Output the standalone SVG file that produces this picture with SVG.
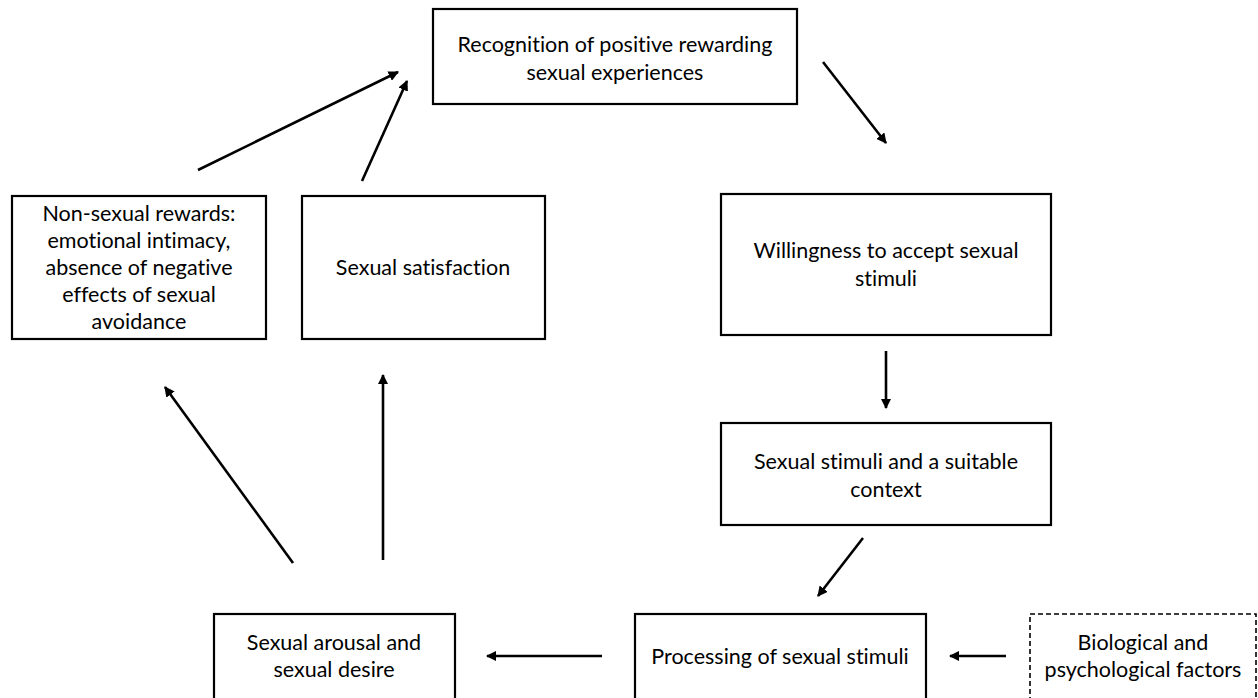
<svg xmlns="http://www.w3.org/2000/svg" width="1258" height="698" viewBox="0 0 1258 698">
  <style>
    .box { fill: #ffffff; stroke: #000000; stroke-width: 2.2; }
    .dash { stroke-dasharray: 5 3; stroke-width: 1.6; }
    .lbl { font-family: Lato, "Liberation Sans", sans-serif; font-size: 21.5px; fill: #000000; text-anchor: middle; font-variant-ligatures: none; }
    .conn line { stroke: #000000; stroke-width: 2.6; marker-end: url(#head); }
  </style>
  <defs>
    <marker id="head" viewBox="0 0 10 10" refX="9" refY="5" markerWidth="4" markerHeight="4" orient="auto" markerUnits="strokeWidth">
      <path d="M0,0 L10,5 L0,10 Z" fill="#000000"/>
    </marker>
  </defs>
  <rect width="1258" height="698" fill="#ffffff"/>

  <g id="recognition">
    <rect class="box" x="433" y="9" width="364" height="95"/>
    <text class="lbl" x="615" y="52">Recognition of positive rewarding</text>
    <text class="lbl" x="615" y="80">sexual experiences</text>
  </g>

  <g id="non-sexual-rewards">
    <rect class="box" x="12" y="196" width="254" height="143"/>
    <text class="lbl" x="139" y="221">Non-sexual rewards:</text>
    <text class="lbl" x="139" y="248">emotional intimacy,</text>
    <text class="lbl" x="139" y="275">absence of negative</text>
    <text class="lbl" x="139" y="302">effects of sexual</text>
    <text class="lbl" x="139" y="329">avoidance</text>
  </g>

  <g id="satisfaction">
    <rect class="box" x="302" y="196" width="243" height="143"/>
    <text class="lbl" x="423" y="275">Sexual satisfaction</text>
  </g>

  <g id="willingness">
    <rect class="box" x="721" y="194" width="330" height="141"/>
    <text class="lbl" x="886" y="258">Willingness to accept sexual</text>
    <text class="lbl" x="886" y="286">stimuli</text>
  </g>

  <g id="stimuli-context">
    <rect class="box" x="721" y="423" width="330" height="102"/>
    <text class="lbl" x="886" y="469">Sexual stimuli and a suitable</text>
    <text class="lbl" x="886" y="497">context</text>
  </g>

  <g id="processing">
    <rect class="box" x="635" y="614" width="291" height="90"/>
    <text class="lbl" x="780" y="664">Processing of sexual stimuli</text>
  </g>

  <g id="factors">
    <rect class="box dash" x="1030" y="614" width="226" height="90"/>
    <text class="lbl" x="1143" y="650">Biological and</text>
    <text class="lbl" x="1143" y="677">psychological factors</text>
  </g>

  <g id="arousal">
    <rect class="box" x="214" y="614" width="241" height="90"/>
    <text class="lbl" x="334" y="650">Sexual arousal and</text>
    <text class="lbl" x="334" y="677">sexual desire</text>
  </g>

  <g id="connectors" class="conn">
    <line x1="823" y1="62" x2="886" y2="143"/>
    <line x1="886" y1="351" x2="886" y2="408"/>
    <line x1="863" y1="538" x2="818" y2="596"/>
    <line x1="1006" y1="656" x2="950" y2="656"/>
    <line x1="602" y1="656" x2="487" y2="656"/>
    <line x1="383" y1="560" x2="383" y2="375"/>
    <line x1="293" y1="563" x2="165" y2="387"/>
    <line x1="362" y1="181" x2="407" y2="81"/>
    <line x1="198" y1="170" x2="398" y2="72"/>
  </g>
</svg>
